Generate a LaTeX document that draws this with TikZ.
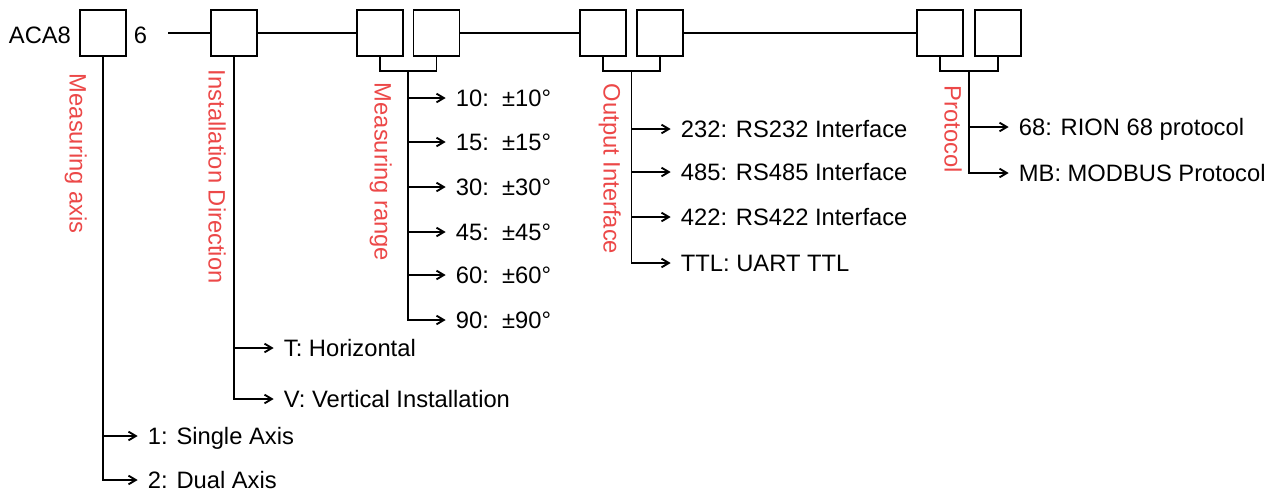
\documentclass[tikz,border=0pt]{standalone}
\usepackage{fontspec}
\setmainfont{Liberation Sans}
\usetikzlibrary{calc,arrows.meta}
\definecolor{labred}{RGB}{236,72,72}
\begin{document}
\begin{tikzpicture}[x=0.75pt,y=-0.75pt,line width=1.4pt,
  font=\fontsize{17.8}{21}\selectfont,
  digit/.style={draw,minimum width=34.5pt,minimum height=34pt,inner sep=0pt},
  opt/.style={anchor=west,inner sep=0pt,text height=12.7pt,text depth=0pt},
  field/.style={opt,rotate=-90,text=labred},
  branch/.style={-{Straight Barb[length=5.5pt,width=6.5pt]},shorten >=7pt}]
\useasboundingbox (0,0) rectangle (1286,493);
% code boxes
\node[opt] (pre) at (8,35) {ACA8};
\node[digit] (d1) at (103,33) {};
\node[opt] (six) at (133,35) {6};
\node[digit] (d2) at (234,33) {};
\node[digit] (d3) at (380,33) {};
\node[digit] (d4) at (436.5,33) {};
\node[digit] (d5) at (603,33) {};
\node[digit] (d6) at (660,33) {};
\node[digit] (d7) at (940,33) {};
\node[digit] (d8) at (998,33) {};
\coordinate (lead) at (168,33);
\draw (lead) -- (d2);
\draw (d2) -- (d3);
\draw (d4) -- (d5);
\draw (d6) -- (d7);
% brackets under the pairs
\draw (d3.south) -- ++(0,14) -| (d4.south);
\draw (d5.south) -- ++(0,14) -| (d6.south);
\draw (d7.south) -- ++(0,14) -| (d8.south);
\coordinate (j1) at (d1.south);
\coordinate (j2) at (d2.south);
\coordinate (j34) at ($(d3.south)!.5!(d4.south)+(0,14)$);
\coordinate (j56) at ($(d5.south)!.5!(d6.south)+(0,14)$);
\coordinate (j78) at ($(d7.south)!.5!(d8.south)+(0,14)$);
% field names
\node[field] (fa) at (78,73) {Measuring axis};
\node[field] (fi) at (217,69) {Installation Direction};
\node[field] (fr) at (383,82) {Measuring range};
\node[field] (fo) at (612,83) {Output Interface};
\node[field] (fp) at (953,85) {Protocol};
% options
\node[opt] (a1) at (147,436) {1: Single Axis};
\node[opt] (a2) at (147,480) {2: Dual Axis};
\node[opt] (ih) at (283,348) {T: Horizontal};
\node[opt] (iv) at (283,399) {V: Vertical Installation};
\foreach \v/\y in {10/98,15/142,30/187,45/232,60/275,90/320}
  \node[opt] (r\v) at (455,\y) {\v:\ \ ±\v°};
\node[opt] (o232) at (680,129) {232: RS232 Interface};
\node[opt] (o485) at (680,172) {485: RS485 Interface};
\node[opt] (o422) at (680,217) {422: RS422 Interface};
\node[opt] (ottl) at (680,263) {TTL: UART TTL};
\node[opt] (p68) at (1018,127) {68: RION 68 protocol};
\node[opt] (pmb) at (1018,173) {MB: MODBUS Protocol};
% branches
\foreach \t in {a1,a2} \draw[branch] (j1) |- (\t);
\foreach \t in {ih,iv} \draw[branch] (j2) |- (\t);
\foreach \v in {10,15,30,45,60,90} \draw[branch] (j34) |- (r\v);
\foreach \t in {o232,o485,o422,ottl} \draw[branch] (j56) |- (\t);
\foreach \t in {p68,pmb} \draw[branch] (j78) |- (\t);
\end{tikzpicture}
\end{document}
